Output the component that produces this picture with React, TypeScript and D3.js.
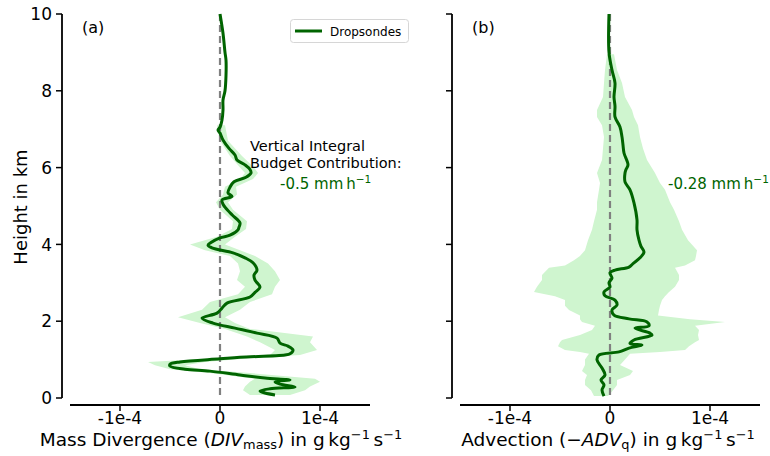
import React from "react";
import * as d3 from "d3";

// Profiles are stored in units of 1e-5 g kg^-1 s^-1
const SCALE = 1e-5;

// (a) mass divergence, mean profile
const divHeights = [10, 9.5, 9.0, 8.8, 8.4, 8.0, 7.76, 7.5, 7.24, 7.05, 6.98, 6.9, 6.72, 6.5, 6.33, 6.2, 6.07, 5.95, 5.86, 5.75, 5.63, 5.49, 5.34, 5.25, 5.16, 5.05, 4.97, 4.77, 4.56, 4.45, 4.38, 4.24, 4.17, 4.05, 3.98, 3.91, 3.78, 3.65, 3.52, 3.33, 3.2, 3.07, 2.89, 2.75, 2.63, 2.47, 2.34, 2.21, 2.08, 1.95, 1.82, 1.69, 1.56, 1.43, 1.35, 1.25, 1.15, 1.12, 1.06, 1.02, 0.94, 0.88, 0.83, 0.75, 0.7, 0.6, 0.52, 0.47, 0.42, 0.36, 0.29, 0.24, 0.18, 0.13, 0.08];
const divMean = [0.0, 0.3, 0.5, 0.6, 0.6, 0.5, 0.3, 0.3, 0.2, 0.0, -0.2, 0.0, 0.3, 0.9, 1.5, 1.7, 2.5, 3.0, 3.1, 2.6, 1.4, 1.0, 0.8, 1.2, 0.2, 0.3, 0.5, 1.2, 2.0, 1.9, 1.8, 1.0, 0.0, -0.9, -1.2, -0.8, 1.3, 2.5, 3.3, 3.7, 3.4, 3.5, 4.0, 3.5, 3.0, 0.7, 0.2, -0.3, -1.8, -0.7, 1.5, 3.7, 5.7, 6.0, 6.8, 7.3, 7.0, 6.5, 2.0, 0.0, -4.0, -5.0, -5.0, -3.5, -1.0, 2.0, 4.5, 7.0, 5.5, 6.0, 7.5, 5.0, 4.0, 4.5, 5.5];

// (a) spread among dropsondes
const divBandHeights = [7.1, 6.7, 6.3, 6.0, 5.86, 5.7, 5.5, 5.3, 5.1, 4.9, 4.6, 4.4, 4.2, 4.0, 3.85, 3.7, 3.5, 3.3, 3.07, 2.9, 2.7, 2.5, 2.3, 2.1, 1.95, 1.8, 1.6, 1.45, 1.25, 1.12, 1.05, 0.94, 0.85, 0.75, 0.65, 0.5, 0.42, 0.3, 0.2, 0.08];
const divLow = [-0.3, 0.0, 1.0, 2.0, 2.5, 2.0, 0.5, 0.3, -0.4, 0.0, 1.3, 1.2, -0.3, -3.0, -1.5, 1.0, 1.8, 2.0, 1.7, 2.5, 1.8, -1.0, -1.8, -4.2, -2.0, 0.5, 2.7, 4.0, 5.5, 5.0, 0.5, -7.2, -6.5, -5.0, -1.0, 3.5, 3.0, 2.5, 2.3, 3.0];
const divHigh = [0.5, 0.8, 2.2, 3.4, 3.8, 3.3, 1.6, 1.7, 0.8, 1.3, 2.7, 2.6, 1.5, 0.5, 2.0, 3.5, 4.8, 5.5, 6.0, 5.5, 5.2, 3.0, 2.0, 0.5, 1.5, 3.0, 9.3, 9.0, 9.7, 8.0, 3.5, -1.5, -3.5, -2.0, 3.0, 9.5, 10.0, 9.0, 8.5, 7.0];

// (b) advection, mean profile
const advHeights = [10, 9.0, 8.54, 8.2, 7.84, 7.6, 7.32, 7.06, 6.8, 6.59, 6.38, 6.07, 5.95, 5.86, 5.63, 5.42, 5.08, 4.64, 4.38, 4.11, 3.95, 3.8, 3.65, 3.5, 3.41, 3.33, 3.26, 3.12, 3.0, 2.89, 2.76, 2.66, 2.55, 2.42, 2.29, 2.16, 2.06, 1.98, 1.88, 1.82, 1.69, 1.64, 1.51, 1.42, 1.38, 1.3, 1.2, 1.12, 0.99, 0.78, 0.6, 0.47, 0.34, 0.21, 0.05];
const advMean = [-0.1, -0.1, 0.2, 0.5, 0.4, 0.5, 0.5, 1.0, 1.2, 1.3, 1.4, 1.8, 1.6, 1.5, 1.5, 2.0, 2.4, 2.7, 2.7, 2.9, 3.1, 3.4, 3.0, 2.3, 1.9, 0.5, 0.0, 0.2, -0.1, 0.0, -0.6, -0.5, 0.5, 0.7, 0.2, 0.4, 1.9, 3.7, 3.9, 2.5, 4.0, 4.2, 2.4, 2.0, 3.2, 1.9, 0.9, -1.1, -1.3, -0.8, -0.5, -0.9, -0.6, -0.8, -0.6];

// (b) spread among dropsondes
const advBandHeights = [8.95, 8.54, 8.2, 7.84, 7.5, 7.32, 7.1, 6.8, 6.5, 6.2, 5.86, 5.6, 5.42, 5.1, 4.9, 4.6, 4.38, 4.11, 3.85, 3.7, 3.59, 3.45, 3.39, 3.2, 3.07, 2.9, 2.76, 2.65, 2.55, 2.4, 2.29, 2.15, 2.05, 1.98, 1.88, 1.77, 1.64, 1.51, 1.45, 1.35, 1.25, 1.2, 1.15, 1.0, 0.86, 0.7, 0.6, 0.47, 0.34, 0.2, 0.05];
const advLow = [-0.3, -0.5, -0.6, -0.7, -1.3, -1.3, -0.8, -0.6, -0.7, -0.8, -1.3, -1.0, -1.1, -1.3, -1.3, -1.6, -1.8, -2.2, -2.5, -3.0, -3.6, -4.5, -6.1, -6.8, -6.8, -7.3, -7.6, -5.5, -4.5, -4.5, -4.1, -3.0, -3.0, -2.8, -1.5, -1.8, -3.0, -4.8, -5.0, -5.2, -4.5, -3.0, -2.1, -2.5, -2.5, -2.8, -2.3, -2.5, -2.5, -1.9, -1.6];
const advHigh = [0.4, 0.7, 1.2, 1.5, 2.2, 2.4, 2.8, 3.0, 3.3, 3.7, 4.5, 5.0, 5.5, 6.0, 6.4, 6.9, 7.2, 7.8, 8.7, 8.6, 8.5, 7.5, 6.5, 6.9, 6.9, 6.5, 5.9, 5.5, 5.2, 5.0, 4.9, 4.8, 8.0, 11.5, 8.5, 8.9, 8.8, 8.9, 8.5, 7.9, 7.5, 5.0, 2.0, 1.5, 1.0, 2.3, 2.0, 0.7, 0.7, 0.3, -0.2];

const heightTicks = [0, 2, 4, 6, 8, 10];
const xTicks = [-1e-4, 0, 1e-4];
const xTickLabels = ["-1e-4", "0", "1e-4"];

const FONT = "'DejaVu Sans', sans-serif";
const LINE = "#006400";
const BAND = "#cff5cf";

const y = d3.scaleLinear().domain([0, 10]).range([398, 14]);

type PanelProps = {
  x0: number;
  heights: number[];
  mean: number[];
  bandHeights: number[];
  low: number[];
  high: number[];
  showYLabels: boolean;
  tag: string;
};

function Panel({ x0, heights, mean, bandHeights, low, high, showYLabels, tag }: PanelProps) {
  const x = d3.scaleLinear().domain([-1.5e-4, 1.5e-4]).range([x0 + 8, x0 + 308]);
  const spineX = x0;
  const bottomY = 405;

  const line = d3
    .line<number>()
    .x((_, i) => x(mean[i] * SCALE))
    .y((h) => y(h))
    .curve(d3.curveCatmullRom.alpha(0.5));

  const area = d3
    .area<number>()
    .y((h) => y(h))
    .x0((_, i) => x(low[i] * SCALE))
    .x1((_, i) => x(high[i] * SCALE))
    .curve(d3.curveLinear);

  return (
    <g>
      <path d={area(bandHeights) ?? ""} fill={BAND} stroke="none" />
      <line x1={x(0)} x2={x(0)} y1={y(10)} y2={y(0)} stroke="#808080" strokeWidth={2.2} strokeDasharray="7,4" />
      <path d={line(heights) ?? ""} fill="none" stroke={LINE} strokeWidth={3} strokeLinejoin="round" />

      {/* left spine with height ticks */}
      <line x1={spineX} x2={spineX} y1={y(10)} y2={y(0)} stroke="#000" strokeWidth={1.8} />
      {heightTicks.map((t) => (
        <g key={t}>
          <line x1={spineX - 6} x2={spineX} y1={y(t)} y2={y(t)} stroke="#000" strokeWidth={1.5} />
          {showYLabels && (
            <text x={spineX - 10} y={y(t)} dy="0.36em" textAnchor="end" fontSize={17} fontFamily={FONT}>
              {t}
            </text>
          )}
        </g>
      ))}

      {/* bottom spine */}
      <line x1={x(-1.5e-4)} x2={x(1.5e-4)} y1={bottomY} y2={bottomY} stroke="#000" strokeWidth={1.8} />
      {xTicks.map((t, i) => (
        <g key={t}>
          <line x1={x(t)} x2={x(t)} y1={bottomY} y2={bottomY + 6} stroke="#000" strokeWidth={1.5} />
          <text x={x(t)} y={bottomY + 19} textAnchor="middle" fontSize={17} fontFamily={FONT}>
            {xTickLabels[i]}
          </text>
        </g>
      ))}

      <text x={x0 + 20} y={33} fontSize={16} fontFamily={FONT}>
        {tag}
      </text>
    </g>
  );
}

export default function App() {
  const sup = { baselineShift: "super", fontSize: "70%" } as React.CSSProperties;
  const subSize = { fontSize: "70%" } as React.CSSProperties;
  return (
    <svg width={770} height={456} viewBox="0 0 770 456" style={{ display: "block", position: "absolute", left: 0, top: 0 }}>
      <rect width={770} height={456} fill="#fff" />
      <Panel x0={62} heights={divHeights} mean={divMean} bandHeights={divBandHeights} low={divLow} high={divHigh} showYLabels tag="(a)" />
      <Panel x0={452} heights={advHeights} mean={advMean} bandHeights={advBandHeights} low={advLow} high={advHigh} showYLabels={false} tag="(b)" />

      <text transform="translate(27,207) rotate(-90)" textAnchor="middle" fontSize={18} fontFamily={FONT}>
        Height in km
      </text>

      <text x={221} y={446} textAnchor="middle" fontSize={18.5} fontFamily={FONT}>
        Mass Divergence (<tspan fontStyle="italic">DIV</tspan>
        <tspan style={subSize} dy={3}>mass</tspan>
        <tspan dy={-3}>) in g</tspan>
        <tspan>{"\u2009kg"}</tspan>
        <tspan style={sup}>−1</tspan>
        <tspan>{"\u2009s"}</tspan>
        <tspan style={sup}>−1</tspan>
      </text>

      <text x={608} y={446} textAnchor="middle" fontSize={18.5} fontFamily={FONT}>
        Advection (−<tspan fontStyle="italic">ADV</tspan>
        <tspan style={subSize} dy={3}>q</tspan>
        <tspan dy={-3}>) in g</tspan>
        <tspan>{"\u2009kg"}</tspan>
        <tspan style={sup}>−1</tspan>
        <tspan>{"\u2009s"}</tspan>
        <tspan style={sup}>−1</tspan>
      </text>

      {/* legend */}
      <rect x={290.5} y={19.5} width={118} height={23} rx={3} fill="#fff" stroke="#d6d6d6" strokeWidth={1} />
      <line x1={295} x2={322} y1={31} y2={31} stroke={LINE} strokeWidth={3} />
      <text x={330} y={35.5} fontSize={12} fontFamily={FONT}>
        Dropsondes
      </text>

      {/* integral annotations */}
      <text x={250} y={151} fontSize={14.5} fontFamily={FONT}>
        Vertical Integral
      </text>
      <text x={250} y={168} fontSize={14.5} fontFamily={FONT}>
        Budget Contribution:
      </text>
      <text x={280} y={189} fontSize={15} fontFamily={FONT} fill={LINE}>
        -0.5 mm<tspan>{"\u2009h"}</tspan>
        <tspan style={sup}>−1</tspan>
      </text>
      <text x={668} y={189} fontSize={15} fontFamily={FONT} fill={LINE}>
        -0.28 mm<tspan>{"\u2009h"}</tspan>
        <tspan style={sup}>−1</tspan>
      </text>
    </svg>
  );
}
